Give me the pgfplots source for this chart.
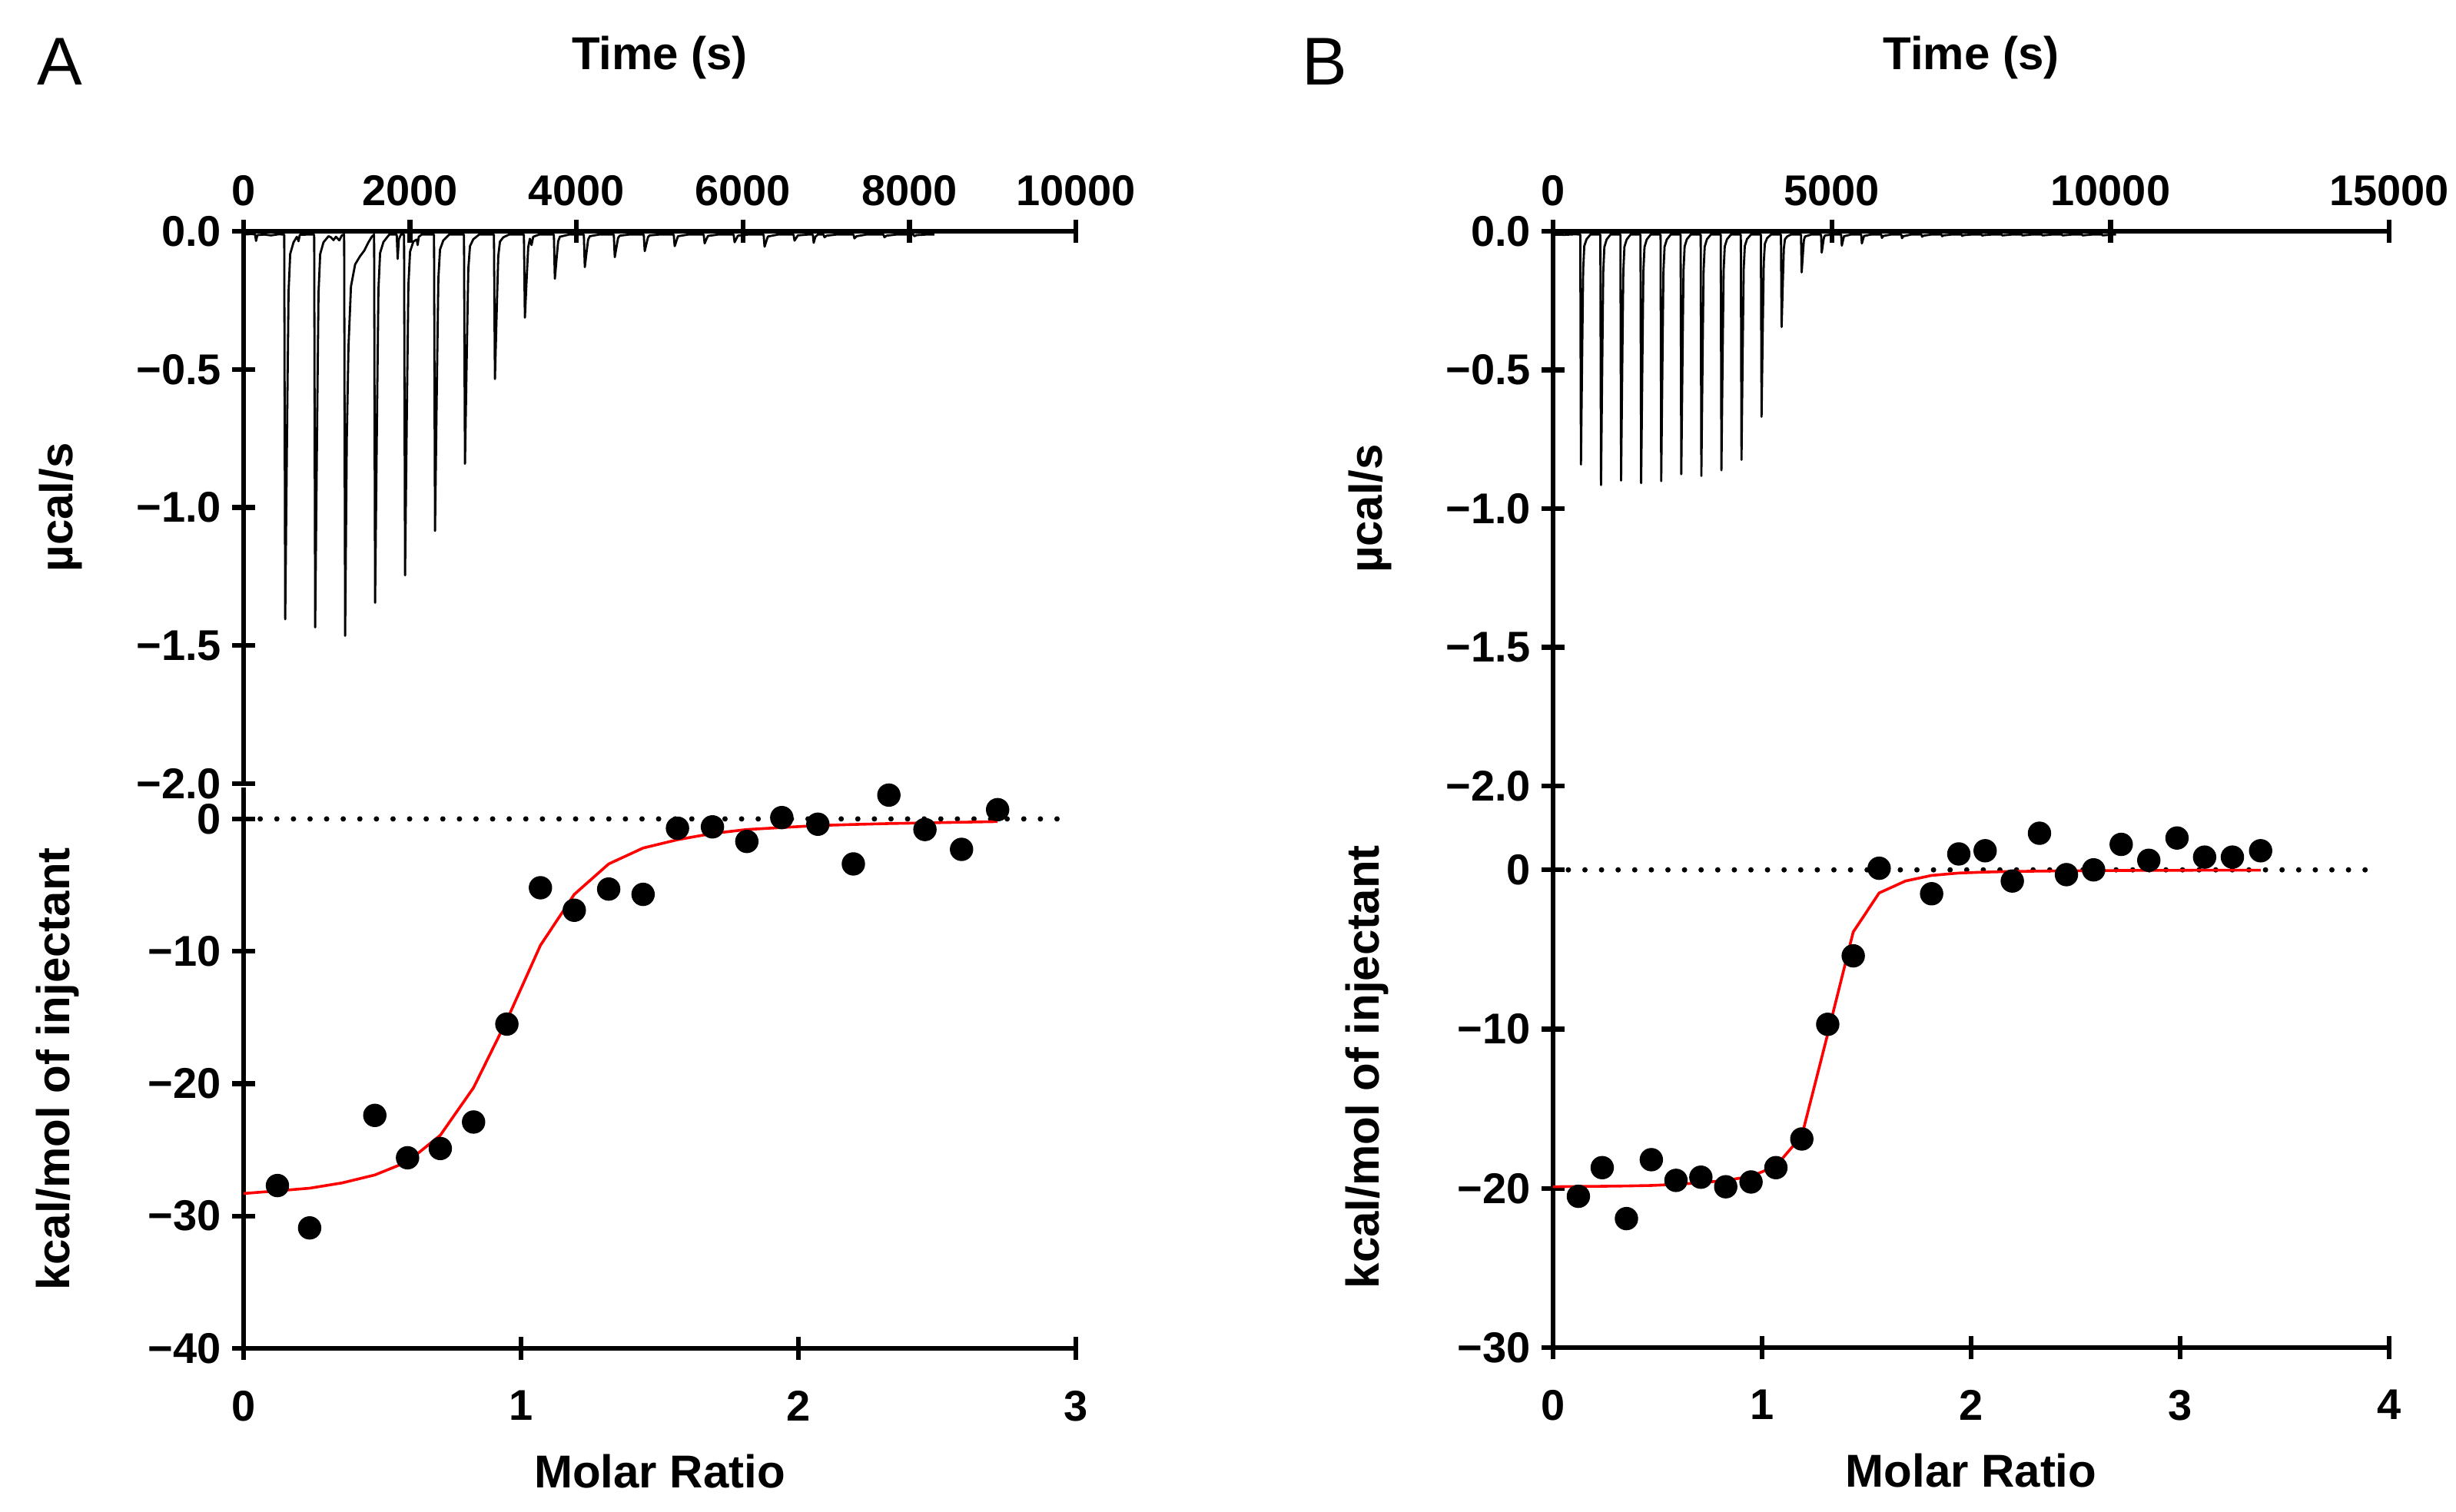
\documentclass[border=0pt]{standalone}
\usepackage{fontspec}
\setmainfont{Liberation Sans}
\usepackage{pgfplots}
\pgfplotsset{compat=1.18}

\pgfplotsset{
  itc/.style={
    scale only axis,
    anchor=south west,
    tick style={line width=1.6pt, black},
    major tick length=7.5pt,
    tick align=outside,
    scaled ticks=false,
    tick label style={font=\fontsize{14}{16}\selectfont\bfseries},
    clip=false,
  },
  noarrows/.style={
    axis line style={-, line width=1.6pt, line cap=rect},
    every outer x axis line/.append style={-},
    every outer y axis line/.append style={-},
    every inner x axis line/.append style={-},
    every inner y axis line/.append style={-},
  },
  upper/.style={
    axis x line=top, axis y line=left, noarrows,
    xlabel style={at={(axis description cs:0.5,1)}, yshift=56.5pt, anchor=center, font=\fontsize{15}{18}\selectfont\bfseries},
    xticklabel style={yshift=1pt},
  },
  lower/.style={
    axis x line=bottom, axis y line=left, noarrows,
    xlabel style={at={(axis description cs:0.5,0)}, yshift=-40pt, anchor=center, font=\fontsize{15}{18}\selectfont\bfseries},
    xticklabel style={yshift=-6.5pt},
  },
  leftlabel/.style={every axis y label/.style={at={(axis description cs:0,0.5)}, xshift=#1, rotate=90, anchor=center, font=\fontsize{15}{18}\selectfont\bfseries}},
  trace/.style={black, line width=0.7pt, line join=round},
  zero/.style={black, line width=1.75pt, dash pattern=on 0pt off 5.4pt, line cap=round},
  fit/.style={red, line width=0.9pt},
  pts/.style={only marks, mark=*, mark size=3.6pt, black},
}

\begin{document}
\begin{tikzpicture}
\useasboundingbox (0,0) rectangle (799pt,491.75pt);

% ---------- panel A, raw heat ----------
\begin{axis}[itc, upper, leftlabel=-59.5pt,
  at={(79.25pt,236.75pt)}, width=270.75pt, height=179.75pt,
  xmin=0, xmax=10000, ymin=-2, ymax=0,
  xtick={0,2000,4000,6000,8000,10000}, xticklabels={0,2000,4000,6000,8000,10000},
  ytick={-2,-1.5,-1,-0.5,0}, yticklabels={−2.0,−1.5,−1.0,−0.5,0.0},
  xlabel={Time (s)}, ylabel={µcal/s}]
\addplot[trace] coordinates {
(0,-0.012)(100,-0.010)(138,-0.012)(150,-0.035)(165,-0.014)(250,-0.012)(330,-0.015)(420,-0.011)
(488,-0.012)(500,-1.405)(525,-0.639)(540,-0.221)(560,-0.082)(600,-0.040)(640,-0.020)(660,-0.036)(675,-0.013)(760,-0.012)
(848,-0.012)(860,-1.434)(885,-0.652)(900,-0.225)(920,-0.083)(960,-0.040)(1020,-0.018)(1050,-0.022)(1080,-0.032)(1110,-0.020)(1150,-0.033)(1180,-0.015)
(1208,-0.012)(1220,-1.465)(1240,-0.75)(1260,-0.42)(1290,-0.20)(1340,-0.12)(1400,-0.09)(1450,-0.07)(1500,-0.04)(1540,-0.02)(1568,-0.012)
(1580,-1.345)(1605,-0.612)(1620,-0.212)(1640,-0.079)(1680,-0.039)(1750,-0.012)(1840,-0.012)(1851,-0.10)(1865,-0.03)(1890,-0.012)
(1928,-0.012)(1940,-1.246)(1965,-0.567)(1980,-0.197)(2000,-0.074)(2040,-0.037)(2080,-0.030)(2091,-0.050)(2105,-0.020)(2140,-0.012)
(2288,-0.012)(2300,-1.085)(2325,-0.495)(2340,-0.173)(2360,-0.066)(2400,-0.033)(2470,-0.012)
(2648,-0.012)(2660,-0.842)(2685,-0.386)(2700,-0.137)(2720,-0.054)(2760,-0.029)(2830,-0.012)
(3008,-0.012)(3020,-0.535)(3045,-0.247)(3060,-0.090)(3080,-0.038)(3120,-0.022)(3190,-0.012)
(3368,-0.012)(3380,-0.313)(3405,-0.147)(3420,-0.057)(3440,-0.027)(3460,-0.050)(3480,-0.020)(3550,-0.012)
(3728,-0.012)(3740,-0.172)(3765,-0.084)(3780,-0.036)(3800,-0.020)(3910,-0.012)
(4088,-0.012)(4100,-0.130)(4125,-0.065)(4140,-0.030)(4160,-0.018)(4270,-0.012)
(4448,-0.012)(4460,-0.094)(4485,-0.049)(4500,-0.024)(4520,-0.016)(4630,-0.012)
(4808,-0.012)(4820,-0.072)(4845,-0.039)(4860,-0.021)(4880,-0.015)(4990,-0.012)
(5168,-0.012)(5180,-0.054)(5205,-0.031)(5220,-0.018)(5340,-0.012)
(5528,-0.012)(5540,-0.044)(5565,-0.026)(5580,-0.017)(5700,-0.012)
(5888,-0.012)(5900,-0.040)(5925,-0.025)(5940,-0.016)(6060,-0.012)
(6248,-0.012)(6260,-0.056)(6285,-0.032)(6300,-0.019)(6420,-0.012)
(6608,-0.012)(6620,-0.034)(6645,-0.022)(6660,-0.015)(6780,-0.012)(6840,-0.012)(6850,-0.042)(6870,-0.020)(6900,-0.012)
(6968,-0.012)(6980,-0.022)(7005,-0.016)(7120,-0.012)
(7328,-0.012)(7340,-0.026)(7365,-0.018)(7480,-0.012)
(7688,-0.012)(7700,-0.022)(7725,-0.016)(7840,-0.012)
(8048,-0.012)(8060,-0.018)(8085,-0.014)(8200,-0.012)(8300,-0.012)
};
\end{axis}

% ---------- panel A, integrated heats ----------
\begin{axis}[itc, lower, leftlabel=-60.5pt,
  at={(79.25pt,53pt)}, width=270.75pt, height=181.75pt,
  xmin=0, xmax=3, ymin=-40, ymax=2.2,
  xtick={0,1,2,3}, xticklabels={0,1,2,3},
  ytick={-40,-30,-20,-10,0}, yticklabels={−40,−30,−20,−10,0},
  xlabel={Molar Ratio}, ylabel={kcal/mol of injectant}]
\addplot[zero] coordinates {(0.06,0)(2.95,0)};
\addplot[fit] coordinates {
(0,-28.3)(0.122,-28.1)(0.238,-27.9)(0.355,-27.5)(0.473,-26.9)(0.591,-25.9)(0.709,-23.9)(0.829,-20.3)(0.949,-15.2)(1.070,-9.55)(1.192,-5.7)(1.316,-3.4)(1.440,-2.2)(1.564,-1.57)(1.690,-1.1)(1.814,-0.8)(1.940,-0.65)(2.070,-0.5)(2.198,-0.42)(2.326,-0.35)(2.456,-0.3)(2.588,-0.25)(2.718,-0.2)
};
\addplot[pts] coordinates {
(0.122,-27.7)(0.238,-30.9)(0.473,-22.4)(0.591,-25.6)(0.709,-24.9)(0.829,-22.9)(0.949,-15.5)(1.070,-5.2)(1.192,-6.9)(1.316,-5.3)(1.440,-5.7)(1.564,-0.7)(1.690,-0.6)(1.814,-1.7)(1.940,0.1)(2.070,-0.4)(2.198,-3.4)(2.326,1.8)(2.456,-0.8)(2.588,-2.3)(2.718,0.7)
};
\end{axis}

% ---------- panel B, raw heat ----------
\begin{axis}[itc, upper, leftlabel=-59.5pt,
  at={(505.25pt,236pt)}, width=272pt, height=180.5pt,
  xmin=0, xmax=15000, ymin=-2, ymax=0,
  xtick={0,5000,10000,15000}, xticklabels={0,5000,10000,15000},
  ytick={-2,-1.5,-1,-0.5,0}, yticklabels={−2.0,−1.5,−1.0,−0.5,0.0},
  xlabel={Time (s)}, ylabel={µcal/s}]
\addplot[trace] coordinates {
(0,-0.012)(200,-0.013)(400,-0.011)
(488,-0.012)(500,-0.841)(525,-0.385)(540,-0.136)(560,-0.053)(600,-0.029)(670,-0.012)
(848,-0.012)(860,-0.915)(885,-0.418)(900,-0.147)(920,-0.057)(960,-0.030)(1030,-0.012)
(1208,-0.012)(1220,-0.899)(1245,-0.411)(1260,-0.145)(1280,-0.056)(1320,-0.030)(1390,-0.012)
(1568,-0.012)(1580,-0.908)(1605,-0.415)(1620,-0.146)(1640,-0.057)(1680,-0.030)(1750,-0.012)
(1928,-0.012)(1940,-0.901)(1965,-0.412)(1980,-0.145)(2000,-0.056)(2040,-0.030)(2110,-0.012)
(2288,-0.012)(2300,-0.876)(2325,-0.401)(2340,-0.142)(2360,-0.055)(2400,-0.029)(2470,-0.012)
(2648,-0.012)(2660,-0.882)(2685,-0.404)(2700,-0.143)(2720,-0.056)(2760,-0.029)(2830,-0.012)
(3008,-0.012)(3020,-0.862)(3045,-0.395)(3060,-0.140)(3080,-0.055)(3120,-0.029)(3190,-0.012)
(3368,-0.012)(3380,-0.824)(3405,-0.377)(3420,-0.134)(3440,-0.053)(3480,-0.028)(3550,-0.012)
(3728,-0.012)(3740,-0.669)(3765,-0.308)(3780,-0.111)(3800,-0.045)(3840,-0.025)(3910,-0.012)
(4088,-0.012)(4100,-0.345)(4125,-0.162)(4140,-0.062)(4160,-0.029)(4200,-0.019)(4270,-0.012)
(4448,-0.012)(4460,-0.148)(4485,-0.073)(4500,-0.032)(4520,-0.019)(4630,-0.012)
(4808,-0.012)(4820,-0.077)(4845,-0.041)(4860,-0.022)(4880,-0.015)(4990,-0.012)
(5168,-0.012)(5180,-0.052)(5205,-0.030)(5220,-0.018)(5340,-0.012)
(5528,-0.012)(5540,-0.044)(5565,-0.026)(5580,-0.017)(5700,-0.012)
(5888,-0.012)(5900,-0.024)(5925,-0.017)(6060,-0.012)
(6248,-0.012)(6260,-0.025)(6285,-0.018)(6420,-0.012)
(6608,-0.012)(6620,-0.020)(6645,-0.016)(6780,-0.012)
(6968,-0.012)(6980,-0.018)(7005,-0.015)(7140,-0.012)
(7328,-0.012)(7340,-0.017)(7365,-0.014)(7500,-0.012)
(7688,-0.012)(7700,-0.016)(7725,-0.014)(7860,-0.012)
(8048,-0.012)(8060,-0.015)(8220,-0.012)
(8408,-0.012)(8420,-0.015)(8580,-0.012)
(8768,-0.012)(8780,-0.015)(8940,-0.012)
(9128,-0.012)(9140,-0.015)(9300,-0.012)
(9488,-0.012)(9500,-0.015)(9660,-0.012)
(9848,-0.012)(9860,-0.015)(10020,-0.012)(10100,-0.012)
};
\end{axis}

% ---------- panel B, integrated heats ----------
\begin{axis}[itc, lower, leftlabel=-60.5pt,
  at={(505.25pt,53.25pt)}, width=272pt, height=182.65pt,
  xmin=0, xmax=4, ymin=-30, ymax=5.25,
  xtick={0,1,2,3,4}, xticklabels={0,1,2,3,4},
  ytick={-30,-20,-10,0}, yticklabels={−30,−20,−10,0},
  xlabel={Molar Ratio}, ylabel={kcal/mol of injectant}]
\addplot[zero] coordinates {(0.073,0)(3.92,0)};
\addplot[fit] coordinates {
(0,-19.9)(0.121,-19.88)(0.235,-19.87)(0.351,-19.85)(0.470,-19.82)(0.588,-19.75)(0.707,-19.65)(0.826,-19.5)(0.947,-19.25)(1.066,-18.6)(1.190,-16.7)(1.314,-10.3)(1.436,-3.9)(1.560,-1.45)(1.686,-0.70)(1.811,-0.35)(1.941,-0.2)(2.067,-0.14)(2.197,-0.1)(2.327,-0.08)(2.456,-0.06)(2.586,-0.05)(2.718,-0.04)(2.850,-0.03)(2.985,-0.03)(3.117,-0.02)(3.250,-0.02)(3.385,-0.02)
};
\addplot[pts] coordinates {
(0.121,-20.5)(0.235,-18.7)(0.351,-21.9)(0.470,-18.2)(0.588,-19.5)(0.707,-19.3)(0.826,-19.9)(0.947,-19.6)(1.066,-18.7)(1.190,-16.9)(1.314,-9.7)(1.436,-5.4)(1.560,0.1)(1.811,-1.5)(1.941,1.0)(2.067,1.2)(2.197,-0.7)(2.327,2.3)(2.456,-0.3)(2.586,0.0)(2.718,1.6)(2.850,0.6)(2.985,2.0)(3.117,0.8)(3.250,0.8)(3.385,1.2)
};
\end{axis}

\node[font=\fontsize{22}{26}\selectfont] at (19.5pt,471.75pt) {A};
\node[font=\fontsize{22}{26}\selectfont] at (431pt,471.75pt) {B};
\end{tikzpicture}
\end{document}
